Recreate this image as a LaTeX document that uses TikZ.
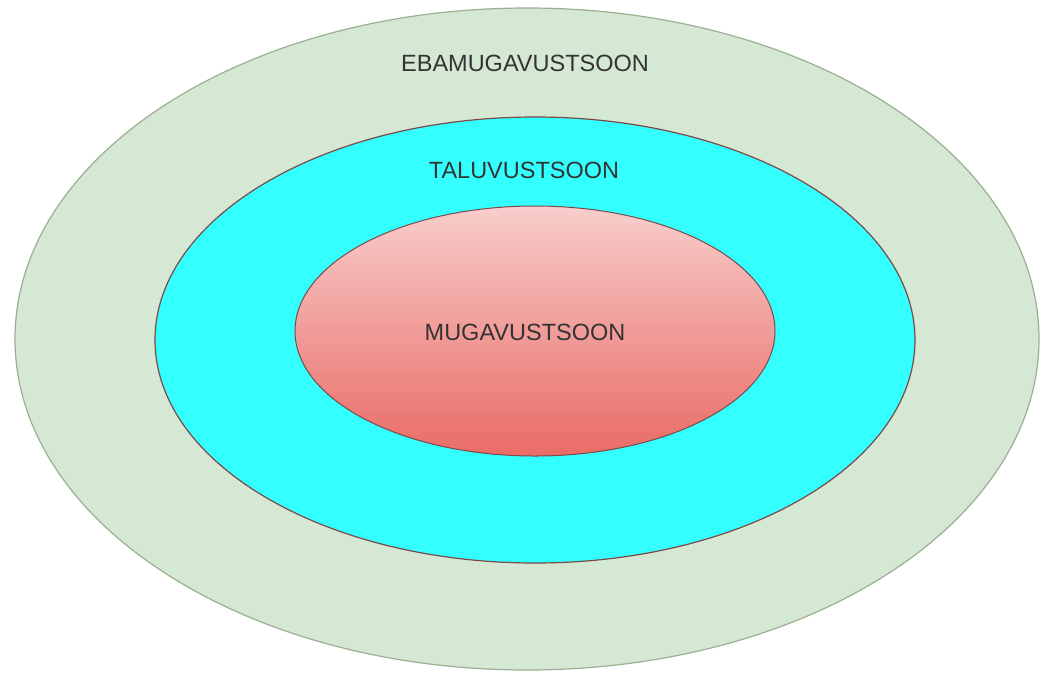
\documentclass[tikz,border=0pt]{standalone}
\usepackage{fontspec}
\setmainfont{Liberation Sans}
\definecolor{outerfill}{HTML}{D5E8D4}
\definecolor{outerline}{HTML}{9BB092}
\definecolor{midfill}{HTML}{33FFFF}
\definecolor{redline}{HTML}{7A4A4A}
\definecolor{gradtop}{HTML}{F8CECC}
\definecolor{gradbot}{HTML}{EA6B66}
\definecolor{txt}{HTML}{333333}
\begin{document}
\begin{tikzpicture}[x=1pt,y=-1pt,
  lbl/.style={text=txt,font=\fontsize{23.5}{26}\selectfont,inner sep=0pt}]
\useasboundingbox (0,0) rectangle (1047,673);
\fill[white] (0,0) rectangle (1047,673);
\draw[fill=outerfill,draw=outerline,line width=1.2pt] (527,339) ellipse [x radius=512,y radius=331];
\draw[fill=midfill,draw=redline,line width=1.2pt] (535,340) ellipse [x radius=380,y radius=223];
\draw[top color=gradtop,bottom color=gradbot,draw=redline,line width=1pt] (535,331) ellipse [x radius=240,y radius=125];
\node[lbl] (outer) at (525,63) {EBAMUGAVUSTSOON};
\node[lbl] (mid) at (524,170) {TALUVUSTSOON};
\node[lbl] (inner) at (525,332) {MUGAVUSTSOON};
\end{tikzpicture}
\end{document}
